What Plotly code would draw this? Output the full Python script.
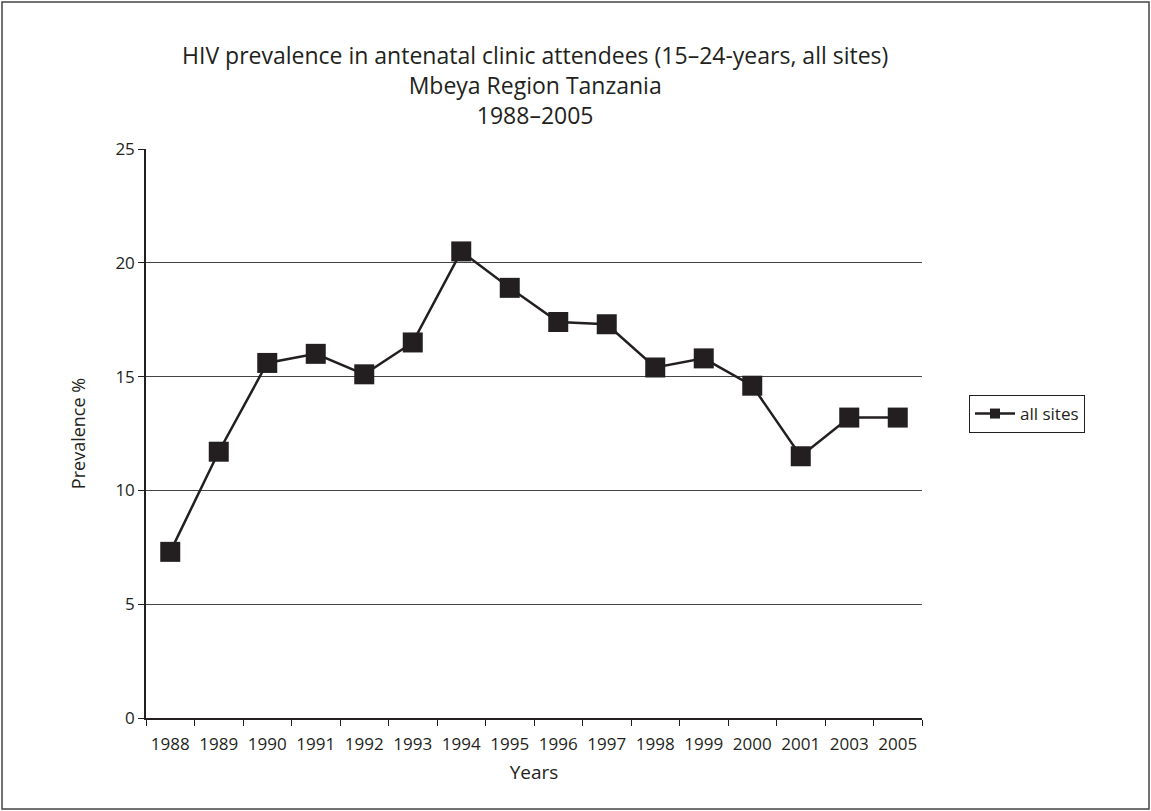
import plotly.graph_objects as go

years = ["1988", "1989", "1990", "1991", "1992", "1993", "1994", "1995",
         "1996", "1997", "1998", "1999", "2000", "2001", "2003", "2005"]
prevalence = [7.3, 11.7, 15.6, 16.0, 15.1, 16.5, 20.5, 18.9,
              17.4, 17.3, 15.4, 15.8, 14.6, 11.5, 13.2, 13.2]
y_ticks = [0, 5, 10, 15, 20, 25]
title_lines = [
    "HIV prevalence in antenatal clinic attendees (15\u201324-years, all sites)",
    "Mbeya Region Tanzania",
    "1988\u20132005",
]

W, H = 1151, 811
L, R, T, B = 146, 229, 149, 93
pw, ph = W - L - R, H - T - B

def px_x(x):
    return (x - L) / pw

def px_y(y):
    return (H - B - y) / ph

FONT = "'Open Sans', Lato, sans-serif"
INK = "#231f20"

fig = go.Figure()
fig.add_trace(go.Scatter(
    x=years, y=prevalence, mode="lines+markers", name="all sites",
    line=dict(color=INK, width=2.5),
    marker=dict(symbol="square", size=20, color=INK),
    showlegend=False,
))
# legend entry (smaller marker, as in the original)
fig.add_trace(go.Scatter(
    x=[None], y=[None], mode="lines+markers", name="all sites",
    line=dict(color=INK, width=2.5),
    marker=dict(symbol="square", size=10, color=INK),
    showlegend=True,
))

fig.update_layout(
    width=W, height=H,
    margin=dict(l=L, r=R, t=T, b=B),
    paper_bgcolor="white", plot_bgcolor="white",
    font=dict(family=FONT, color=INK, size=17),
    showlegend=True,
    legend=dict(
        x=px_x(969), y=px_y(414), xanchor="left", yanchor="middle",
        bordercolor=INK, borderwidth=1, bgcolor="white",
        font=dict(size=17, family=FONT),
        itemwidth=40,
    ),
    xaxis=dict(
        type="category", tickson="boundaries",
        ticks="outside", ticklen=6, tickcolor=INK,
        showline=True, linecolor=INK, linewidth=1.5,
        showgrid=False, zeroline=False,
        title=dict(text="Years", font=dict(size=19, family=FONT), standoff=12),
        tickfont=dict(size=17),
        ticklabelstandoff=10,
        range=[-0.5, len(years) - 0.5],
    ),
    yaxis=dict(
        range=[0, 25], tickvals=y_ticks,
        ticks="outside", ticklen=6, tickcolor=INK,
        showline=True, linecolor=INK, linewidth=1.5,
        showgrid=True, gridcolor="#444444", gridwidth=1,
        zeroline=False,
        title=dict(text="Prevalence %", font=dict(size=18, family=FONT), standoff=25),
        tickfont=dict(size=17),
    ),
)

fig.add_annotation(
    text="<br>".join(title_lines), xref="paper", yref="paper",
    x=px_x(535), y=px_y(85.5), xanchor="center", yanchor="middle",
    align="center", showarrow=False,
    font=dict(size=23, family=FONT, color=INK),
)

fig.add_shape(
    type="rect", xref="paper", yref="paper",
    x0=px_x(2), x1=px_x(1149), y0=px_y(809), y1=px_y(2),
    line=dict(color="#444444", width=1.5), fillcolor="rgba(0,0,0,0)",
    layer="below",
)

fig.write_html(
    "out.html",
    config={"displayModeBar": False},
    post_script="document.body.style.margin='0';document.body.style.padding='0';document.body.style.overflow='hidden';",
)
